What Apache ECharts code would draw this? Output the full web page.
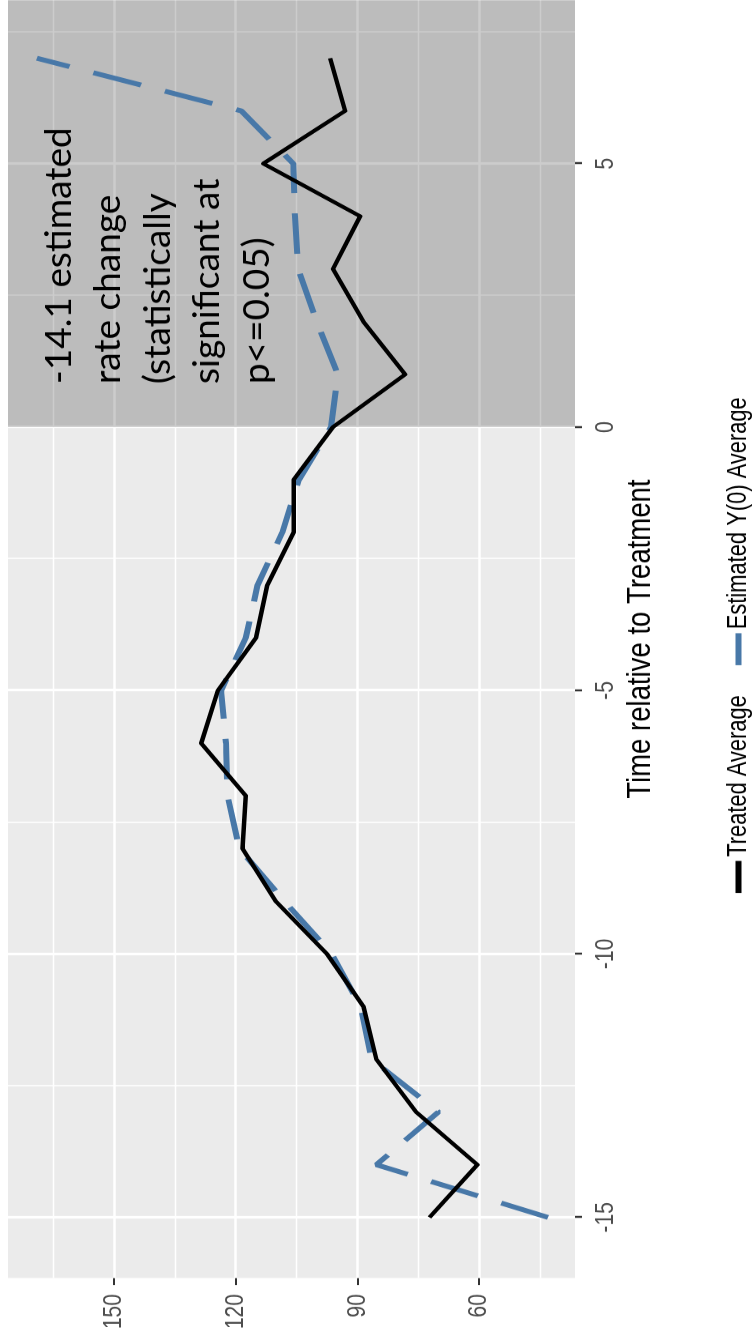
<!DOCTYPE html>
<html>
<head>
<meta charset="utf-8">
<title>Treated vs Estimated Y(0) Average</title>
<script src="https://cdn.jsdelivr.net/npm/echarts@6/dist/echarts.min.js"></script>
<style>
  html, body { margin: 0; padding: 0; background: #fff; overflow: hidden; width: 753px; height: 1340px; }
  /* the figure is laid out landscape, squeezed a bit along its width, then turned a quarter turn */
  #chart {
    position: absolute; left: 0; top: 0;
    width: 1654px; height: 753px;
    transform-origin: 0 0;
    transform: translate(0, 1340px) rotate(-90deg) scale(0.81, 1);
  }
</style>
</head>
<body>
<div id="chart"></div>
<script>
// data
const times = [-15, -14, -13, -12, -11, -10, -9, -8, -7, -6, -5, -4, -3, -2, -1, 0, 1, 2, 3, 4, 5, 6, 7];
const treated = [72.2, 60.4, 75.5, 85.3, 88.5, 97.5, 110.1, 118.3, 117.5, 128.5, 124.4, 115.0, 112.2, 105.7, 105.7, 96.0, 78.2, 88.5, 96.0, 89.3, 113.2, 93.0, 96.7];
const estimated = [43.0, 85.3, 70.0, 86.5, 89.2, 96.3, 108.0, 119.1, 122.0, 122.4, 123.6, 117.5, 114.6, 108.5, 104.4, 96.5, 94.8, 100.0, 104.6, 105.4, 105.8, 118.6, 169.0];

const timeTicks = [-15, -10, -5, 0, 5];
const timeMinor = [-12.5, -7.5, -2.5, 2.5, 7.5];
const valueTicks = [60, 90, 120, 150];
const valueMinor = [45, 75, 105, 135, 165];
const treatStart = 0;
const seriesNames = ['Treated Average', 'Estimated Y(0) Average'];
const noteLines = ['-14.1 estimated', 'rate change', '(statistically', 'significant at', 'p<=0.05)'];

const SX = 0.81;              // same as the css squeeze
const U = px => px / SX;      // final pixels along the width -> chart pixels
const BLUE = '#4878A8';
const FONT = "'Liberation Sans', Arial, sans-serif";

const xMin = -16.15, xMax = 8.1;
const yMin = 36.33, yMax = 176.14;

const chart = echarts.init(document.getElementById('chart'), null, { renderer: 'canvas' });

const gridLines = [];
timeTicks.forEach(v => gridLines.push({ xAxis: v, lineStyle: { width: 2.6 / SX } }));
timeMinor.forEach(v => gridLines.push({ xAxis: v, lineStyle: { width: 1.3 / SX } }));
valueTicks.forEach(v => gridLines.push({ yAxis: v, lineStyle: { width: 2.6 } }));
valueMinor.forEach(v => gridLines.push({ yAxis: v, lineStyle: { width: 1.3 } }));

chart.setOption({
  animation: false,
  grid: {
    left: U(62), top: 8, width: U(1285), height: 567,
    show: true, backgroundColor: '#EBEBEB', borderWidth: 0
  },
  xAxis: {
    type: 'value', min: xMin, max: xMax,
    name: 'Time relative to Treatment',
    nameLocation: 'middle', nameGap: 44,
    nameTextStyle: { fontFamily: FONT, fontSize: 34, color: '#000' },
    axisLine: { show: false },
    splitLine: { show: false },
    axisTick: { show: true, customValues: timeTicks, length: 7, lineStyle: { color: '#333', width: 2 / SX } },
    axisLabel: { customValues: timeTicks, margin: 18, fontFamily: FONT, fontSize: 26, color: '#4D4D4D' }
  },
  yAxis: {
    type: 'value', min: yMin, max: yMax,
    axisLine: { show: false, onZero: false },
    splitLine: { show: false },
    axisTick: { show: true, customValues: valueTicks, length: U(7), lineStyle: { color: '#333', width: 2 } },
    axisLabel: { customValues: valueTicks, margin: U(16), fontFamily: FONT, fontSize: 26, color: '#4D4D4D' }
  },
  legend: {
    left: U(443), top: 720,
    itemWidth: U(32), itemHeight: 6, itemGap: U(30),
    icon: 'rect',
    textStyle: { fontFamily: FONT, fontSize: 27, color: '#000' },
    data: [
      { name: seriesNames[0], itemStyle: { color: '#000', borderWidth: 0 } },
      { name: seriesNames[1], itemStyle: { color: BLUE, borderWidth: 0 } }
    ]
  },
  graphic: [{
    type: 'text', left: U(956), top: 34, z: 10, silent: true,
    scaleX: 1 / SX, originX: 0, originY: 0,
    style: {
      text: noteLines.join('\n'),
      font: '37px Lato',
      lineHeight: 49.5,
      fill: '#000'
    }
  }],
  series: [
    {
      name: 'grid', type: 'line', data: [], silent: true,
      markLine: {
        z: 1, silent: true, symbol: ['none', 'none'], label: { show: false },
        lineStyle: { color: '#fff', type: 'solid' },
        data: gridLines
      }
    },
    {
      name: 'post', type: 'line', data: [], silent: true,
      markArea: {
        z: 2, silent: true,
        itemStyle: { color: 'rgba(0,0,0,0.2)' },
        data: [[{ xAxis: treatStart }, { xAxis: xMax }]]
      }
    },
    {
      name: seriesNames[1], type: 'line', z: 3, symbol: 'none',
      data: times.map((t, i) => [t, estimated[i]]),
      lineStyle: { color: BLUE, width: 6, type: [50, 25] },
      itemStyle: { color: BLUE }
    },
    {
      name: seriesNames[0], type: 'line', z: 4, symbol: 'none',
      data: times.map((t, i) => [t, treated[i]]),
      lineStyle: { color: '#000', width: 4.5, join: 'round' },
      itemStyle: { color: '#000' }
    }
  ]
});
</script>
</body>
</html>
